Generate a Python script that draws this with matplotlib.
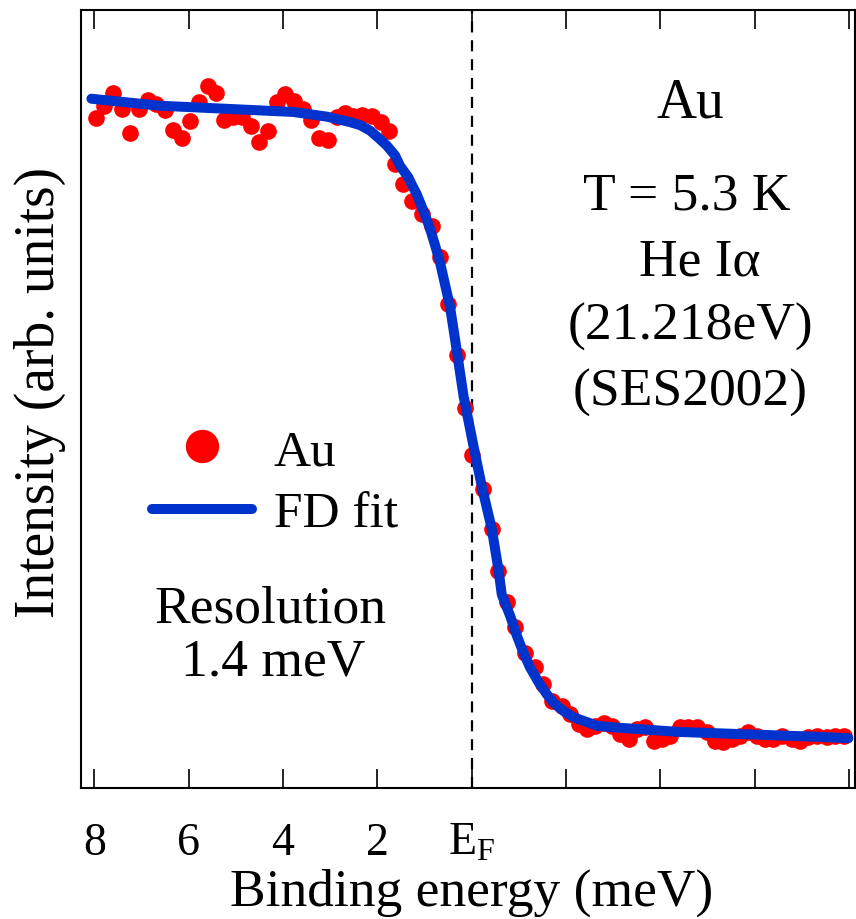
import matplotlib
matplotlib.use('Agg')
import matplotlib.pyplot as plt
from matplotlib.lines import Line2D

plt.rcParams['font.family'] = ['Liberation Serif', 'DejaVu Serif']
plt.rcParams['mathtext.fontset'] = 'custom'
plt.rcParams['mathtext.rm'] = 'Liberation Serif'
plt.rcParams['mathtext.it'] = 'Liberation Serif:italic'

# measured spectrum (binding energy in meV, intensity in arb. units)
energy = [7.96, 7.79, 7.60, 7.42, 7.24, 7.05, 6.85, 6.68, 6.50, 6.32,
          6.13, 5.96, 5.77, 5.59, 5.42, 5.24, 5.05, 4.87, 4.68, 4.50,
          4.32, 4.13, 3.95, 3.76, 3.58, 3.40, 3.23, 3.04, 2.86, 2.68,
          2.51, 2.32, 2.12, 1.93, 1.75, 1.62, 1.45, 1.27, 1.06, 0.84,
          0.67, 0.49, 0.31, 0.14, -0.01, -0.24, -0.43, -0.57, -0.75, -0.92,
          -1.13, -1.35, -1.52, -1.70, -1.91, -2.09, -2.27, -2.44, -2.62, -2.80,
          -2.97, -3.15, -3.33, -3.50, -3.68, -3.86, -4.03, -4.21, -4.42, -4.60,
          -4.78, -4.99, -5.16, -5.34, -5.52, -5.69, -5.87, -6.05, -6.22, -6.40,
          -6.58, -6.79, -6.97, -7.14, -7.32, -7.53, -7.71, -7.89]
intensity = [0.861, 0.877, 0.894, 0.873, 0.842, 0.873, 0.885, 0.879, 0.872, 0.846,
             0.836, 0.857, 0.882, 0.903, 0.893, 0.859, 0.863, 0.863, 0.851, 0.831,
             0.845, 0.882, 0.892, 0.883, 0.873, 0.859, 0.836, 0.833, 0.862, 0.868,
             0.864, 0.865, 0.864, 0.856, 0.844, 0.802, 0.776, 0.755, 0.738, 0.723,
             0.682, 0.622, 0.556, 0.489, 0.428, 0.384, 0.333, 0.279, 0.239, 0.207,
             0.174, 0.155, 0.134, 0.112, 0.106, 0.095, 0.082, 0.076, 0.080, 0.084,
             0.080, 0.069, 0.063, 0.076, 0.078, 0.061, 0.063, 0.067, 0.078, 0.079,
             0.078, 0.072, 0.061, 0.059, 0.063, 0.067, 0.072, 0.067, 0.063, 0.063,
             0.067, 0.063, 0.061, 0.065, 0.067, 0.065, 0.067, 0.067]

# Fermi-Dirac fit curve
fit_energy = [8.06, 6.61, 5.19, 3.78, 3.07, 2.58, 2.36, 2.15, 1.98, 1.80,
              1.62, 1.52, 1.34, 1.27, 1.16, 1.02, 0.88, 0.77, 0.67, 0.46,
              0.35, 0.17, -0.04, -0.22, -0.43, -0.57, -0.64, -0.82, -0.96, -1.10,
              -1.24, -1.42, -1.59, -1.73, -1.95, -2.16, -2.66, -3.00, -4.42, -5.84,
              -7.25, -7.99]
fit_intensity = [0.886, 0.877, 0.873, 0.869, 0.863, 0.856, 0.852, 0.845, 0.836, 0.826,
                 0.813, 0.800, 0.785, 0.776, 0.763, 0.742, 0.719, 0.697, 0.676, 0.620,
                 0.577, 0.504, 0.440, 0.387, 0.333, 0.281, 0.249, 0.221, 0.196, 0.174,
                 0.155, 0.136, 0.121, 0.110, 0.099, 0.091, 0.080, 0.078, 0.072, 0.069,
                 0.066, 0.064]

tick_pos = [8, 6, 4, 2, 0, -2, -4, -6, -8]
tick_lab = ['8', '6', '4', '2', r'$\mathrm{E}_\mathrm{F}$', '', '', '', '']

red = '#ff0000'
blue = '#0033cc'

fig = plt.figure(figsize=(8.56, 9.2), dpi=100)
ax = fig.add_axes([0.0952, 0.1424, 0.9036, 0.8456])

ax.axvline(0, color='black', lw=1.6, linestyle=(0, (5, 3.5)), zorder=1)
ax.plot(energy, intensity, 'o', color=red, ms=12, mec='none', zorder=2)
ax.plot(fit_energy, fit_intensity, color=blue, lw=7.2, solid_capstyle='round',
        solid_joinstyle='round', zorder=3)

ax.set_xlim(8.27, -8.13)
ax.set_ylim(0, 1)
ax.set_yticks([])
ax.set_xticks(tick_pos)
ax.set_xticklabels(tick_lab)
ax.tick_params(axis='x', direction='in', top=True, length=14, width=1.2,
               labelsize=33, pad=24)
for s in ax.spines.values():
    s.set_linewidth(1.5)

ax.set_xlabel('Binding energy (meV)', fontsize=38.5, va='center')
ax.xaxis.set_label_coords(0.505, -0.134)
ax.set_ylabel('Intensity (arb. units)', fontsize=40, va='center')
ax.yaxis.set_label_coords(-0.0537, 0.51)

handles = [Line2D([], [], ls='', marker='o', ms=24, color=red, mec='none'),
           Line2D([], [], color=blue, lw=7.2, solid_capstyle='round')]
ax.legend(handles, ['Au', 'FD fit'], loc='center left', bbox_to_anchor=(0.0911, 0.392),
          frameon=False, fontsize=37, handlelength=1.95, handletextpad=0.42,
          labelspacing=0.3, borderpad=0, borderaxespad=0)

fig.text(690 / 856, 1 - 103 / 920, 'Au', fontsize=40, ha='center', va='center')
fig.text(687 / 856, 1 - 197 / 920, 'T = 5.3 K', fontsize=38.5, ha='center', va='center')
fig.text(700 / 856, 1 - 262 / 920, 'He Iα', fontsize=38.5, ha='center', va='center')
fig.text(690 / 856, 1 - 327 / 920, '(21.218eV)', fontsize=38.5, ha='center', va='center')
fig.text(690 / 856, 1 - 393 / 920, '(SES2002)', fontsize=38.5, ha='center', va='center')
fig.text(270 / 856, 1 - 610 / 920, 'Resolution', fontsize=38.5, ha='center', va='center')
fig.text(273 / 856, 1 - 663 / 920, '1.4 meV', fontsize=38.5, ha='center', va='center')

fig.savefig('out.png', dpi=100)
